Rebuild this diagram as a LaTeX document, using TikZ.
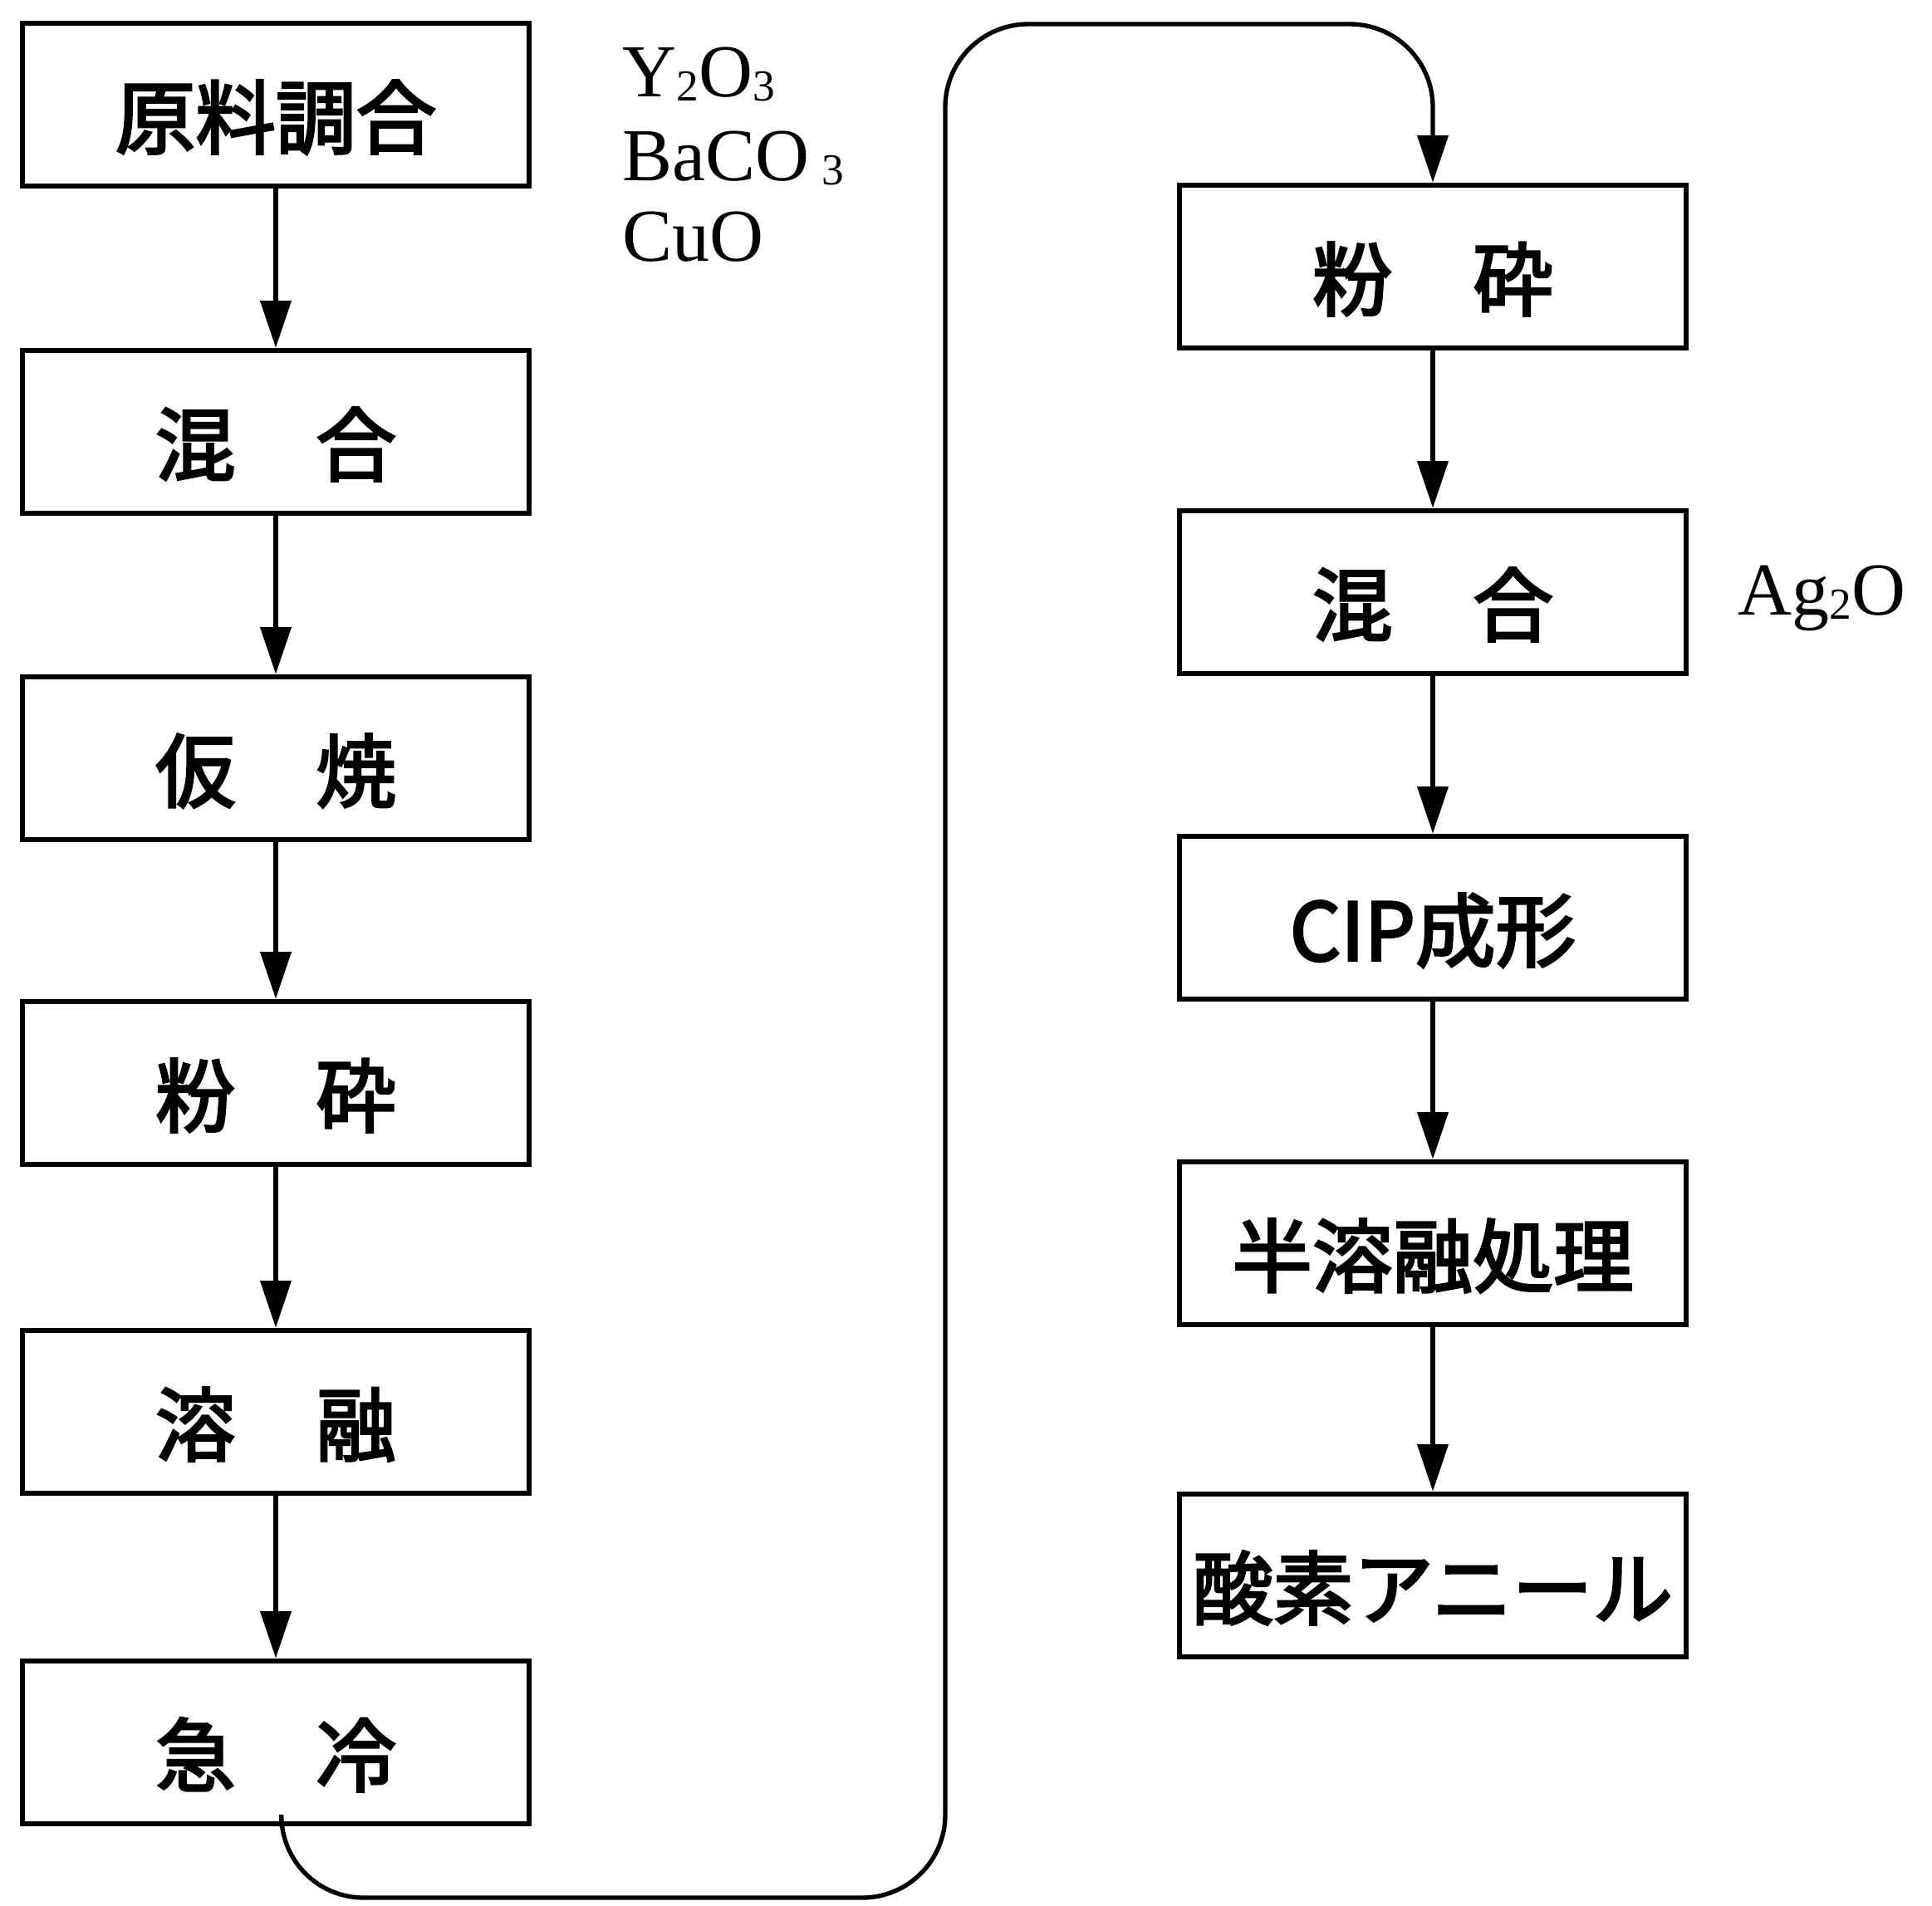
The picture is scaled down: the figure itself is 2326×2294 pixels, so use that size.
\documentclass[tikz,border=0pt]{standalone}
\usepackage{fontspec}
\setmainfont{Liberation Serif}
\newfontfamily\jpfont{Noto Sans CJK JP}[FakeBold=3]
\usetikzlibrary{arrows.meta}
\newcommand\chemsub[1]{\raisebox{-1.5pt}{\fontsize{16}{16}\selectfont #1}}
\begin{document}
\begin{tikzpicture}[x=0.3pt,y=-0.3pt,
  proc/.style={draw, line width=1.8pt, minimum width=183pt, minimum height=59pt, inner sep=0pt,
    text height=31pt, text depth=0pt,
    font={\jpfont\fontsize{29}{29}\selectfont}},
  flow/.style={line width=1.6pt, -{Triangle[length=17pt,width=11pt]}},
  chem/.style={anchor=base west, inner sep=0pt, font={\fontsize{27}{30}\selectfont}}]
\useasboundingbox (0,0) rectangle (2326,2294);
% left column
\node[proc] (L1) at (332,126)  {原料調合};
\node[proc] (L2) at (332,520)  {混　合};
\node[proc] (L3) at (332,913)  {仮　焼};
\node[proc] (L4) at (332,1304) {粉　砕};
\node[proc] (L5) at (332,1700) {溶　融};
\node[proc] (L6) at (332,2098) {急　冷};
% right column
\node[proc] (R1) at (1725,321)  {粉　砕};
\node[proc] (R2) at (1725,713)  {混　合};
\node[proc] (R3) at (1725,1105) {CIP成形};
\node[proc] (R4) at (1725,1497) {半溶融処理};
\node[proc] (R5) at (1725,1897) {酸素アニール};
% labels
\node[chem] (m1) at (749,116) {Y\chemsub{2}O\chemsub{3}};
\node[chem] (m2) at (749,217) {BaCO\,\chemsub{3}};
\node[chem] (m3) at (749,314) {CuO};
\node[chem] (m4) at (2092,740) {Ag\chemsub{2}O};
% arrows
\draw[flow] (L1) -- (L2);
\draw[flow] (L2) -- (L3);
\draw[flow] (L3) -- (L4);
\draw[flow] (L4) -- (L5);
\draw[flow] (L5) -- (L6);
\draw[flow] (R1) -- (R2);
\draw[flow] (R2) -- (R3);
\draw[flow] (R3) -- (R4);
\draw[flow] (R4) -- (R5);
% loop
\coordinate (c1) at (338,2285);
\coordinate (c2) at (1138,2285);
\coordinate (c3) at (1138,29);
\coordinate (c4) at (1725,29);
\draw[flow, rounded corners=30pt] ([xshift=2pt]L6.south) -- (c1) -- (c2) -- (c3) -- (c4) -- (R1.north);
\end{tikzpicture}
\end{document}
